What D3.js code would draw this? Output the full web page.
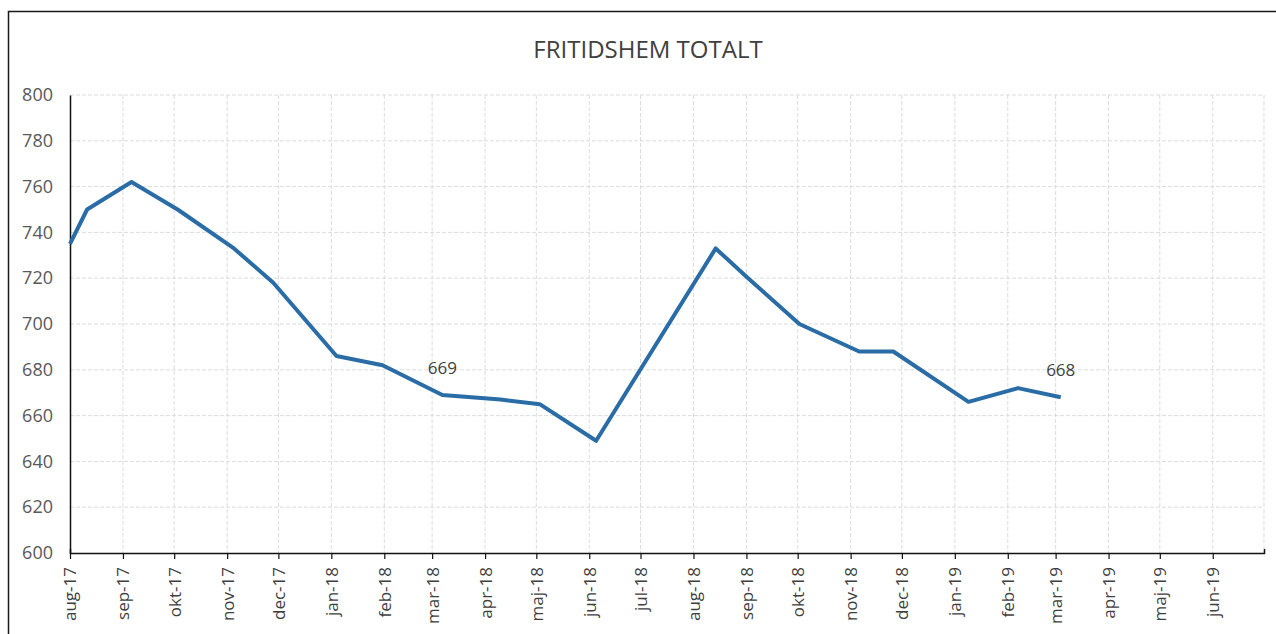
<!DOCTYPE html>
<html>
<head>
<meta charset="utf-8">
<script src="https://cdn.jsdelivr.net/npm/d3@7"></script>
<style>
    body { margin:0; background:#fff; }
    text { font-family: "Open Sans", "Liberation Sans", sans-serif; }
</style>
</head>
<body>
<svg id="chart" width="1276" height="634"></svg>
<script>
var TITLE="FRITIDSHEM TOTALT";

// dates of the readings and the total counted on each
var dates=["2017-08-01","2017-08-11","2017-09-06","2017-10-03","2017-11-05","2017-11-28",
	   "2018-01-04","2018-01-31","2018-03-07","2018-04-10","2018-05-03","2018-06-05",
	   "2018-08-14","2018-09-02","2018-10-02","2018-11-06","2018-11-26",
	   "2019-01-09","2019-02-07","2019-03-04"];
var totals=[735,750,762,750,733,718,686,682,669,667,665,649,733,720,700,688,688,666,672,668];

// which points carry a value label
var labelled=[8,19];

var yTicks=[600,620,640,660,680,700,720,740,760,780,800];
var monthNames=["jan","feb","mar","apr","maj","jun","jul","aug","sep","okt","nov","dec"];

var parse=d3.timeParse("%Y-%m-%d");
var points=dates.map(function(d,i){ return {date:parse(d), value:totals[i]}; });

var svg=d3.select("#chart");
var W=1276, H=634;
var PLOT_LEFT=70, PLOT_RIGHT=1264, PLOT_TOP=95, PLOT_BOTTOM=553;

// frame round the whole chart
svg.append("rect")
    .attr("x",8.5)
    .attr("y",11.5)
    .attr("width",W)
    .attr("height",H)
    .attr("fill","#fff")
    .attr("stroke","#1a1a1a")
    .attr("stroke-width",1.5);

svg.append("text")
    .attr("x",648)
    .attr("y",58)
    .attr("text-anchor","middle")
    .attr("font-size",24)
    .attr("fill","#404040")
    .text(TITLE);

var x=d3.scaleTime()
    .domain([parse("2017-08-01"),parse("2019-07-01")])
    .range([PLOT_LEFT,PLOT_RIGHT]);

var y=d3.scaleLinear()
    .domain([600,800])
    .range([PLOT_BOTTOM,PLOT_TOP]);

var months=d3.timeMonth.range(parse("2017-08-01"),parse("2019-07-02"));

// grid
svg.append("g")
    .selectAll("line")
    .data(yTicks.slice(1))
    .enter().append("line")
    .attr("x1",PLOT_LEFT)
    .attr("x2",PLOT_RIGHT)
    .attr("y1",function(d){ return y(d); })
    .attr("y2",function(d){ return y(d); })
    .attr("stroke","#dcdcdc")
    .attr("stroke-dasharray","4,2");

svg.append("g")
    .selectAll("line")
    .data(months.slice(1))
    .enter().append("line")
    .attr("x1",function(d){ return x(d); })
    .attr("x2",function(d){ return x(d); })
    .attr("y1",PLOT_TOP)
    .attr("y2",PLOT_BOTTOM)
    .attr("stroke","#dcdcdc")
    .attr("stroke-dasharray","4,2");

// axes
var yAxis=d3.axisLeft(y)
    .tickValues(yTicks)
    .tickSize(0)
    .tickPadding(17);

var gy=svg.append("g")
    .attr("transform","translate("+PLOT_LEFT+",0)")
    .call(yAxis);
gy.select(".domain").attr("stroke","#111").attr("stroke-width",1.5);
gy.selectAll("text")
    .attr("font-size",18)
    .attr("fill","#595959")
    .attr("font-family","\"Open Sans\", sans-serif");

var xAxis=d3.axisBottom(x)
    .tickValues(months.slice(0,months.length-1))
    .tickSize(6)
    .tickSizeOuter(-4)
    .tickFormat(function(d){
	return monthNames[d.getMonth()]+"-"+d3.timeFormat("%y")(d);
    });

var gx=svg.append("g")
    .attr("transform","translate(0,"+PLOT_BOTTOM+")")
    .call(xAxis);
gx.select(".domain").attr("stroke","#111").attr("stroke-width",1.5);
gx.selectAll(".tick line").attr("stroke","#111").attr("stroke-width",1.2);
gx.selectAll("text")
    .attr("font-size",17)
    .attr("fill","#404040")
    .attr("font-family","\"Open Sans\", sans-serif")
    .attr("text-anchor","end")
    .attr("transform","rotate(-90)")
    .attr("x",-14)
    .attr("y",0)
    .attr("dy","0.35em");

// the series
var line=d3.line()
    .x(function(d){ return x(d.date); })
    .y(function(d){ return y(d.value); });

svg.append("path")
    .datum(points)
    .attr("d",line)
    .attr("fill","none")
    .attr("stroke","#2a6ca6")
    .attr("stroke-width",4)
    .attr("stroke-linejoin","round");

svg.append("g")
    .selectAll("text")
    .data(labelled.map(function(i){ return points[i]; }))
    .enter().append("text")
    .attr("x",function(d){ return x(d.date); })
    .attr("y",function(d){ return y(d.value)-21; })
    .attr("text-anchor","middle")
    .attr("font-size",17)
    .attr("fill","#404040")
    .text(function(d){ return d.value; });
</script>
</body>
</html>
